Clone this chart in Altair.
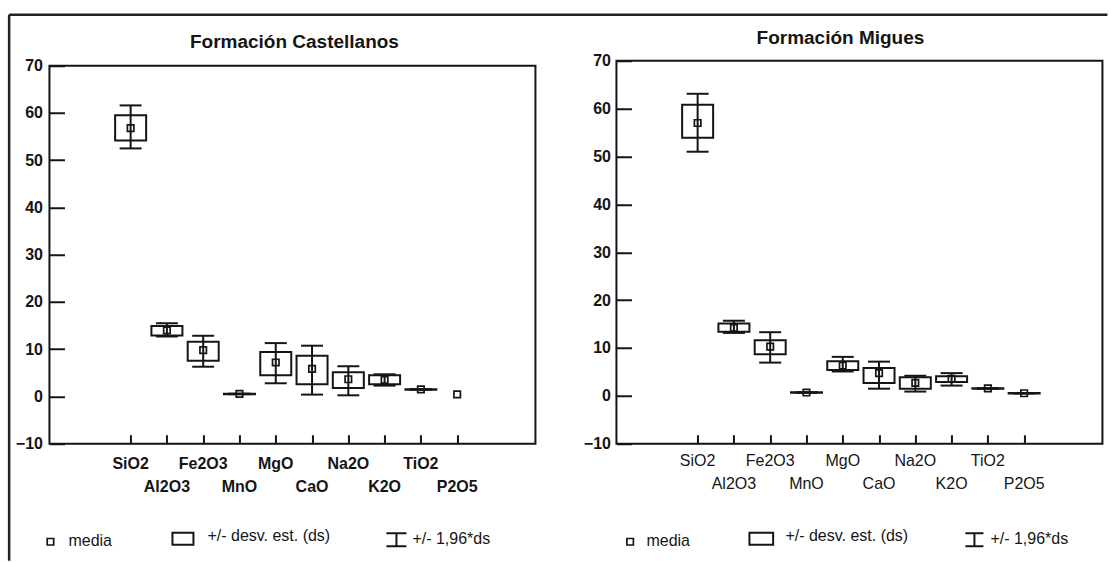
import altair as alt
import pandas as pd

# ---------------- data ----------------
oxides = ["SiO2", "Al2O3", "Fe2O3", "MnO", "MgO", "CaO", "Na2O", "K2O", "TiO2", "P2O5"]

# Formación Castellanos
cas_media = [56.8, 14.0, 9.8, 0.55, 7.2, 5.85, 3.65, 3.5, 1.5, 0.45]
cas_ds_lo = [54.2, 12.9, 7.55, 0.5, 4.5, 2.6, 1.8, 2.6, 1.45, None]
cas_ds_hi = [59.5, 14.9, 11.6, 0.6, 9.4, 8.6, 5.15, 4.5, 1.55, None]
cas_196_lo = [52.5, 12.7, 6.3, 0.5, 2.8, 0.4, 0.25, 2.3, 1.45, None]
cas_196_hi = [61.6, 15.5, 12.85, 0.6, 11.3, 10.75, 6.4, 4.7, 1.55, None]

# Formación Migues
mig_media = [57.0, 14.2, 10.3, 0.7, 6.3, 4.75, 2.7, 3.55, 1.55, 0.55]
mig_ds_lo = [53.9, 13.4, 8.7, 0.65, 5.4, 2.7, 1.5, 2.9, 1.5, 0.5]
mig_ds_hi = [60.8, 15.1, 11.6, 0.75, 7.25, 5.8, 3.9, 4.1, 1.6, 0.6]
mig_196_lo = [51.0, 13.15, 6.95, 0.65, 5.1, 1.5, 0.9, 2.15, 1.5, 0.5]
mig_196_hi = [63.1, 15.7, 13.3, 0.75, 8.15, 7.15, 4.2, 4.75, 1.6, 0.6]

y_ticks = [-10, 0, 10, 20, 30, 40, 50, 60, 70]

legend_media = "media"
legend_ds = "+/- desv. est. (ds)"
legend_196 = "+/- 1,96*ds"

titles = ["Formación Castellanos", "Formación Migues"]

# ---------------- styling ----------------
INK = "#151515"
FONT = "Liberation Sans"
W, H = 486, 383


def make_df(media, lo, hi, wlo, whi):
    return pd.DataFrame({
        "oxide": oxides,
        "pos": list(range(1, len(oxides) + 1)),
        "media": media,
        "ds_lo": lo,
        "ds_hi": hi,
        "w_lo": wlo,
        "w_hi": whi,
        "fila": [i % 2 for i in range(len(oxides))],
    })


def panel(df, title, ytop, title_x, title_y, lab_y, leg, xbold, ylab_pad, outer_frame=False):
    xs = alt.Scale(domain=[-1.1, 12.02], nice=False, zero=False)
    xaxis = alt.Axis(values=list(range(1, len(oxides) + 1)), labels=False, domain=False,
                     grid=False, tickSize=9, offset=-9, tickWidth=2, tickColor=INK)
    ys = alt.Scale(domain=[-10, ytop], nice=False, zero=False)
    yaxis = alt.Axis(values=y_ticks, domain=False, grid=False, tickSize=15, offset=-15,
                     tickWidth=2, tickColor=INK, labelPadding=ylab_pad, labelFontSize=16,
                     labelFontWeight="bold", labelFont=FONT, labelColor=INK)

    def X():
        return alt.X("pos:Q", scale=xs, axis=xaxis, title=None)

    def Y(f):
        return alt.Y(f + ":Q", scale=ys, axis=yaxis, title=None)

    base = alt.Chart(df)
    valid = base.transform_filter("isValid(datum.ds_lo)")

    box = valid.mark_bar(size=31, fill="white", fillOpacity=0, stroke=INK,
                         strokeWidth=2, opacity=1).encode(
        x=X(), y=Y("ds_lo"), y2="ds_hi:Q")
    whisk = valid.mark_rule(color=INK, strokeWidth=2, opacity=1).encode(
        x=X(), y=Y("w_lo"), y2="w_hi:Q")
    cap_lo = valid.mark_tick(orient="horizontal", size=22, thickness=2, color=INK,
                             opacity=1).encode(x=X(), y=Y("w_lo"))
    cap_hi = valid.mark_tick(orient="horizontal", size=22, thickness=2, color=INK,
                             opacity=1).encode(x=X(), y=Y("w_hi"))
    mean = base.mark_point(shape="square", size=42, filled=False, color=INK,
                           strokeWidth=1.7, opacity=1).encode(x=X(), y=Y("media"))

    lab_kw = dict(fontSize=16, font=FONT, color=INK, baseline="middle", align="center",
                  fontWeight="bold" if xbold else "normal")
    lab0 = base.transform_filter("datum.fila == 0").mark_text(**lab_kw).encode(
        x=X(), y=alt.value(lab_y[0]), text="oxide:N")
    lab1 = base.transform_filter("datum.fila == 1").mark_text(**lab_kw).encode(
        x=X(), y=alt.value(lab_y[1]), text="oxide:N")

    one = alt.Chart(pd.DataFrame({"k": [0]}))
    frame = one.mark_rect(fill="white", fillOpacity=0, stroke=INK, strokeWidth=2).encode(
        x=alt.value(0), x2=alt.value(W),
        y=alt.YDatum(70, scale=ys, axis=yaxis, title=None), y2=alt.Y2Datum(-10))

    ttl = one.mark_text(text=title, fontSize=19, fontWeight="bold", font=FONT, color=INK,
                        align="center", baseline="alphabetic").encode(
        x=alt.value(title_x), y=alt.value(title_y))

    # legend (drawn decoration)
    mx, tx1, bx0, bx1, tx2, ix0, ix1, tx3 = leg
    txt = dict(fontSize=16, font=FONT, color=INK, align="left", baseline="alphabetic")
    lg = [
        one.mark_point(shape="square", size=42, filled=False, color=INK, strokeWidth=1.7,
                       opacity=1).encode(x=alt.value(mx), y=alt.value(481)),
        one.mark_text(text=legend_media, **txt).encode(x=alt.value(tx1), y=alt.value(485)),
        one.mark_rect(fill="white", stroke=INK, strokeWidth=2).encode(
            x=alt.value(bx0), x2=alt.value(bx1), y=alt.value(472), y2=alt.value(484)),
        one.mark_text(text=legend_ds, **txt).encode(x=alt.value(tx2), y=alt.value(480)),
        one.mark_rule(color=INK, strokeWidth=2).encode(
            x=alt.value(ix0), x2=alt.value(ix1), y=alt.value(472.5)),
        one.mark_rule(color=INK, strokeWidth=2).encode(
            x=alt.value(ix0), x2=alt.value(ix1), y=alt.value(485.5)),
        one.mark_rule(color=INK, strokeWidth=2).encode(
            x=alt.value((ix0 + ix1) / 2), y=alt.value(472.5), y2=alt.value(485.5)),
        one.mark_text(text=legend_196, **txt).encode(x=alt.value(tx3), y=alt.value(483)),
    ]

    layers = [frame, box, whisk, cap_lo, cap_hi, mean, lab0, lab1, ttl] + lg
    if outer_frame:
        layers += [
            one.mark_rule(color="#222222", strokeWidth=2.5).encode(
                x=alt.value(-40.3), y=alt.value(-46), y2=alt.value(500)),
            one.mark_rule(color="#222222", strokeWidth=2.5).encode(
                x=alt.value(-40.3), x2=alt.value(1058), y=alt.value(-46)),
        ]

    return alt.layer(*layers).properties(width=W, height=H)


left = panel(make_df(cas_media, cas_ds_lo, cas_ds_hi, cas_196_lo, cas_196_hi),
             titles[0], 71.05, W / 2 + 2, -13, (403, 426.7),
             (1, 19, 123, 144, 158, 337, 357, 363), True, 7, outer_frame=True)
right = panel(make_df(mig_media, mig_ds_lo, mig_ds_hi, mig_196_lo, mig_196_hi),
              titles[1], 70, 224, -17, (400, 423),
              (13.7, 30, 133, 156.7, 169, 349, 367, 374), False, 6)

chart = alt.hconcat(left, right, spacing=81, bounds="flush").properties(
    padding={"left": 7.45, "top": 12.75, "right": 0, "bottom": 0},
    background="white",
).configure_view(strokeWidth=0)

chart.save("out.html", embed_options={"renderer": "svg", "actions": False})
